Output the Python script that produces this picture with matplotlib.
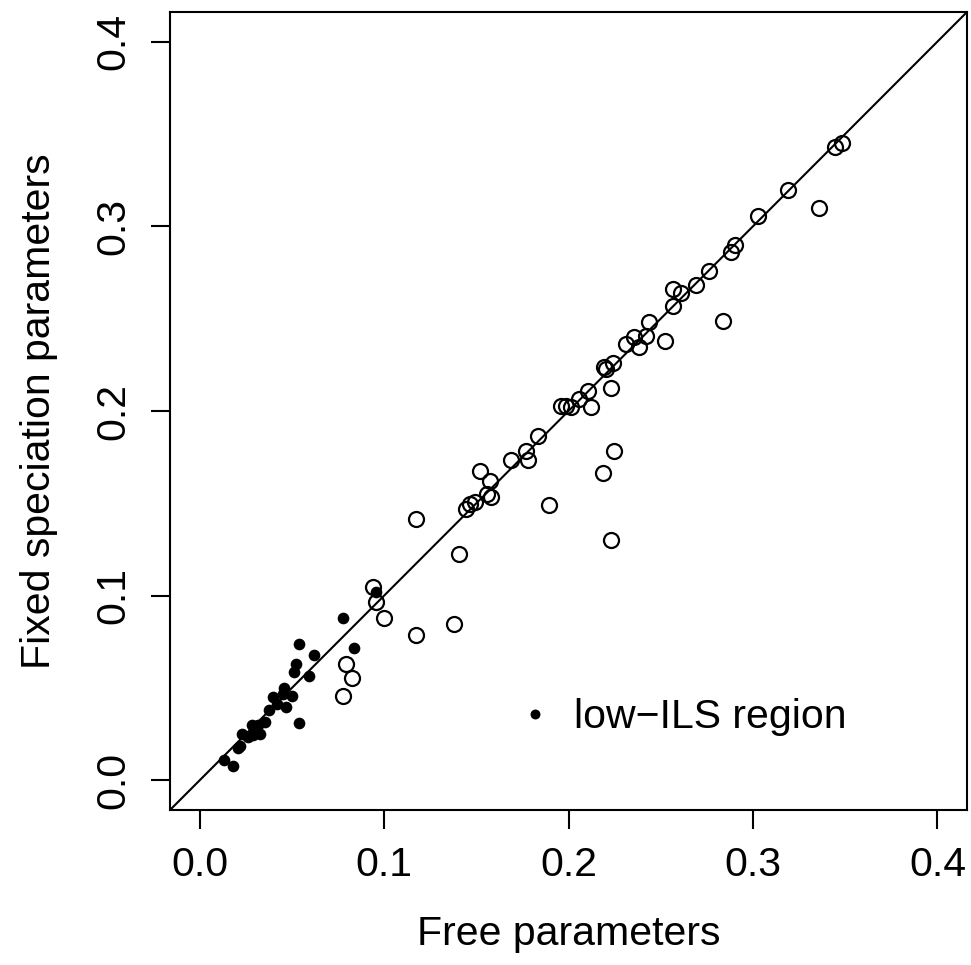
import matplotlib
matplotlib.use("Agg")
import matplotlib.pyplot as plt

plt.rcParams['font.family'] = ['Liberation Sans', 'DejaVu Sans']

# --- low-ILS region (filled points) ---
low_x = [0.0959, 0.0779, 0.0838, 0.0539, 0.0622, 0.0524, 0.0514, 0.0592, 0.0460,
         0.0500, 0.0400, 0.0451, 0.0469, 0.0419, 0.0379, 0.0541, 0.0355, 0.0319,
         0.0283, 0.0328, 0.0292, 0.0229, 0.0265, 0.0220, 0.0206, 0.0130, 0.0184]
low_y = [0.1019, 0.0878, 0.0716, 0.0740, 0.0678, 0.0631, 0.0586, 0.0563, 0.0502,
         0.0455, 0.0451, 0.0469, 0.0400, 0.0415, 0.0383, 0.0310, 0.0316, 0.0298,
         0.0298, 0.0253, 0.0244, 0.0253, 0.0234, 0.0186, 0.0177, 0.0112, 0.0076]

# --- other points (open circles) ---
oth_x = [0.0938, 0.0956, 0.1000, 0.1172, 0.0792, 0.0824, 0.0776, 0.1380, 0.1406,
         0.1176, 0.2230, 0.1893, 0.1446, 0.1468, 0.1491, 0.1581, 0.1558, 0.1576,
         0.1523, 0.2185, 0.2248, 0.1690, 0.1779, 0.1771, 0.1833, 0.1960, 0.1984,
         0.2014, 0.2122, 0.2059, 0.2104, 0.2230, 0.2194, 0.2205, 0.2239, 0.2312,
         0.2383, 0.2356, 0.2420, 0.2438, 0.2525, 0.2838, 0.2564, 0.2567, 0.2609,
         0.2690, 0.2762, 0.2879, 0.2903, 0.3027, 0.3189, 0.3357, 0.3443, 0.3483]
oth_y = [0.1046, 0.0965, 0.0880, 0.0785, 0.0628, 0.0556, 0.0455, 0.0848, 0.1227,
         0.1415, 0.1299, 0.1491, 0.1470, 0.1494, 0.1510, 0.1533, 0.1551, 0.1620,
         0.1677, 0.1663, 0.1786, 0.1735, 0.1737, 0.1786, 0.1867, 0.2029, 0.2025,
         0.2020, 0.2024, 0.2065, 0.2110, 0.2125, 0.2240, 0.2228, 0.2258, 0.2363,
         0.2348, 0.2399, 0.2408, 0.2480, 0.2377, 0.2489, 0.2566, 0.2660, 0.2637,
         0.2684, 0.2760, 0.2862, 0.2900, 0.3057, 0.3196, 0.3099, 0.3431, 0.3449]

ticks = [0.0, 0.1, 0.2, 0.3, 0.4]
lims = (-0.016, 0.416)

fig = plt.figure(figsize=(9.71, 9.65), dpi=100)
ax = fig.add_axes([170/971, 1 - 810/965, (967 - 170)/971, (810 - 12)/965])

ax.plot(oth_x, oth_y, 'o', mfc='none', mec='black', ms=10.8, mew=1.6, ls='none')
ax.plot(low_x, low_y, 'o', color='black', ms=8.4, mew=0, ls='none',
        label='low\u2212ILS region')
ax.axline((0, 0), slope=1, color='black', lw=1.5)

ax.set_xlim(lims); ax.set_ylim(lims)
ax.set_xticks(ticks); ax.set_yticks(ticks)
ax.set_xticklabels([f'{t:.1f}' for t in ticks])
ax.set_yticklabels([f'{t:.1f}' for t in ticks], rotation=90, va='center')
ax.tick_params(labelsize=29.5, length=14, width=1.5, pad=12)
ax.tick_params(axis='y', pad=13)
for s in ax.spines.values():
    s.set_linewidth(1.5)

ax.set_xlabel('Free parameters', fontsize=29.5, labelpad=22)
ax.set_ylabel('Fixed speciation parameters', fontsize=29.5, labelpad=26)

ax.legend(loc='center left', bbox_to_anchor=((515 - 170)/797, (810 - 717)/798),
          frameon=False, fontsize=29.5, handletextpad=0.45, markerscale=0.85,
          handlelength=1.0, borderpad=0, borderaxespad=0)

fig.savefig('out.png', dpi=100)
